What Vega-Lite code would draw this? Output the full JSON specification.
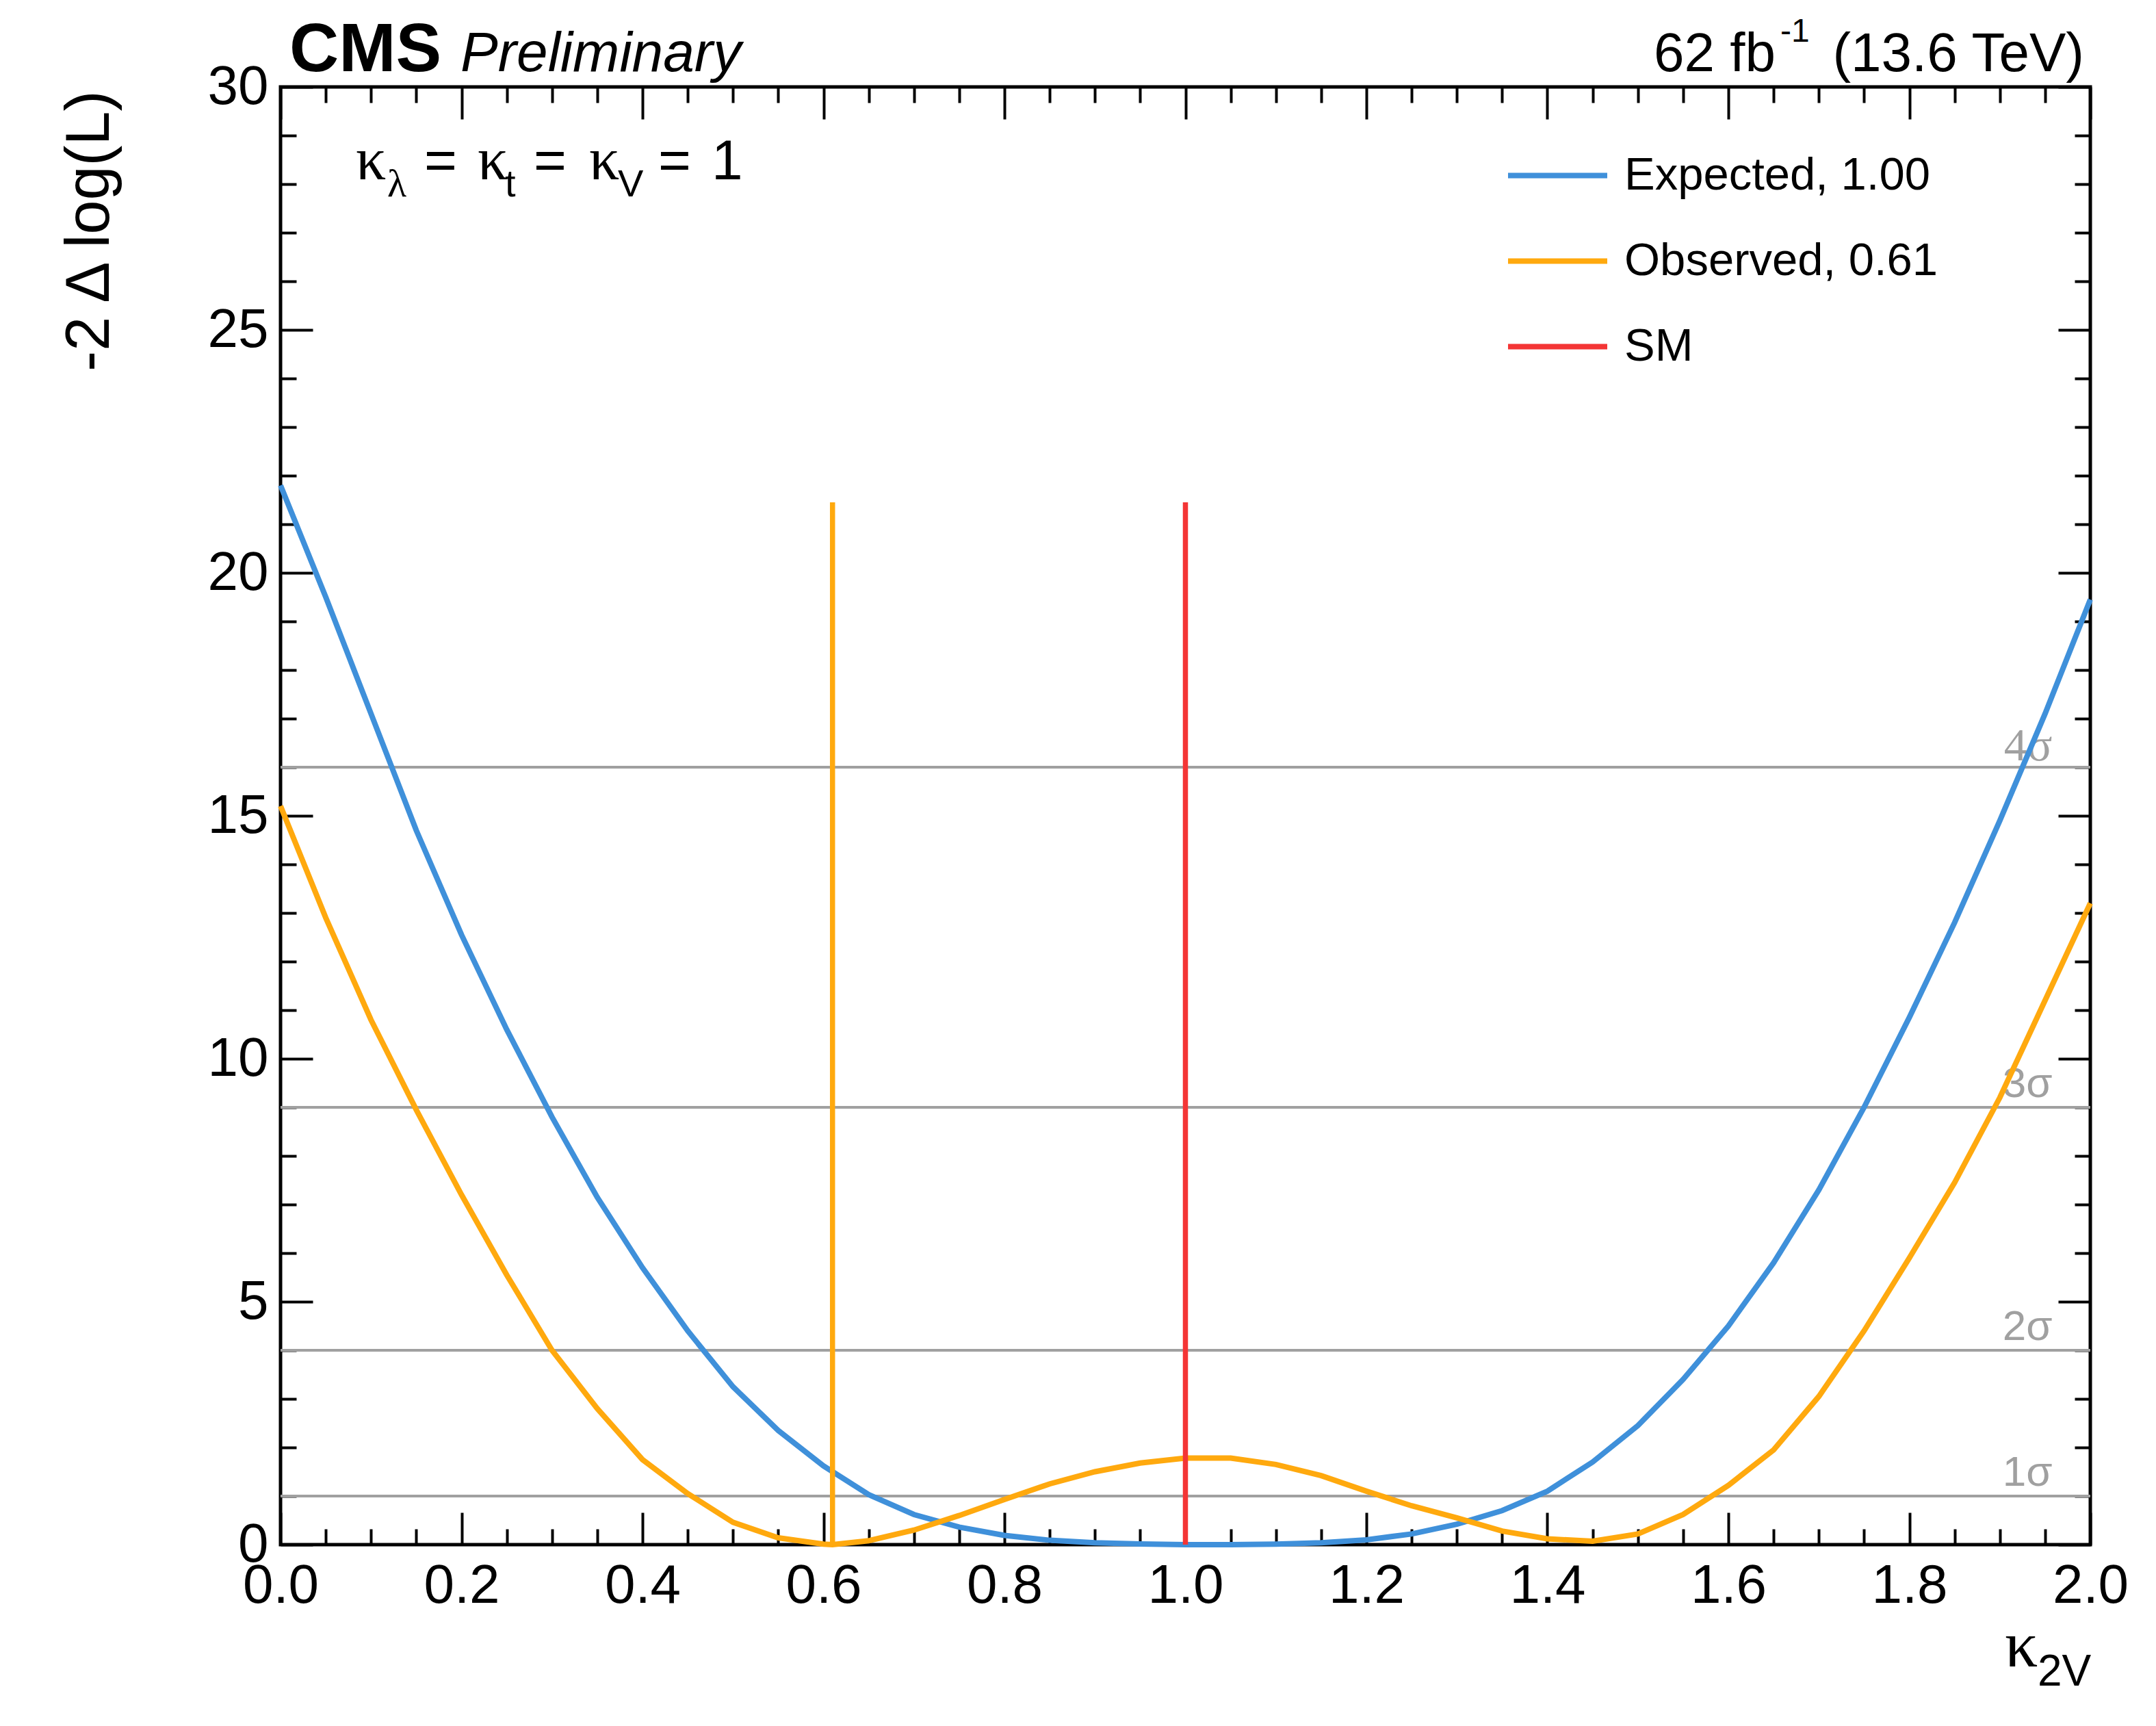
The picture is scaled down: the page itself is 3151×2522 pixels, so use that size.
{
  "$schema": "https://vega.github.io/schema/vega-lite/v6.json",
  "width": 2645,
  "height": 2130,
  "autosize": {"type": "none"},
  "padding": {"left": 410, "top": 127, "right": 96, "bottom": 265},
  "background": "white",
  "config": {
    "view": {"stroke": "black", "strokeWidth": 5},
    "font": "Liberation Sans",
    "axis": {"domain": false, "grid": false, "tickColor": "black", "tickWidth": 4, "labelFont": "Liberation Sans", "labelFontSize": 80, "labelColor": "black", "labelFlush": false, "labelOverlap": false, "labelBound": false, "zindex": 1}
  },
  "datasets": {
    "curves": [
      {"x": 0.00, "y": 21.8, "series": "Expected, 1.00"},
      {"x": 0.05, "y": 19.5, "series": "Expected, 1.00"},
      {"x": 0.10, "y": 17.1, "series": "Expected, 1.00"},
      {"x": 0.15, "y": 14.7, "series": "Expected, 1.00"},
      {"x": 0.20, "y": 12.55, "series": "Expected, 1.00"},
      {"x": 0.25, "y": 10.6, "series": "Expected, 1.00"},
      {"x": 0.30, "y": 8.8, "series": "Expected, 1.00"},
      {"x": 0.35, "y": 7.15, "series": "Expected, 1.00"},
      {"x": 0.40, "y": 5.7, "series": "Expected, 1.00"},
      {"x": 0.45, "y": 4.4, "series": "Expected, 1.00"},
      {"x": 0.50, "y": 3.25, "series": "Expected, 1.00"},
      {"x": 0.55, "y": 2.35, "series": "Expected, 1.00"},
      {"x": 0.60, "y": 1.62, "series": "Expected, 1.00"},
      {"x": 0.65, "y": 1.03, "series": "Expected, 1.00"},
      {"x": 0.70, "y": 0.62, "series": "Expected, 1.00"},
      {"x": 0.75, "y": 0.36, "series": "Expected, 1.00"},
      {"x": 0.80, "y": 0.19, "series": "Expected, 1.00"},
      {"x": 0.85, "y": 0.09, "series": "Expected, 1.00"},
      {"x": 0.90, "y": 0.04, "series": "Expected, 1.00"},
      {"x": 0.95, "y": 0.015, "series": "Expected, 1.00"},
      {"x": 1.00, "y": 0.0, "series": "Expected, 1.00"},
      {"x": 1.05, "y": 0.0, "series": "Expected, 1.00"},
      {"x": 1.10, "y": 0.01, "series": "Expected, 1.00"},
      {"x": 1.15, "y": 0.04, "series": "Expected, 1.00"},
      {"x": 1.20, "y": 0.1, "series": "Expected, 1.00"},
      {"x": 1.25, "y": 0.22, "series": "Expected, 1.00"},
      {"x": 1.30, "y": 0.42, "series": "Expected, 1.00"},
      {"x": 1.35, "y": 0.7, "series": "Expected, 1.00"},
      {"x": 1.40, "y": 1.1, "series": "Expected, 1.00"},
      {"x": 1.45, "y": 1.7, "series": "Expected, 1.00"},
      {"x": 1.50, "y": 2.45, "series": "Expected, 1.00"},
      {"x": 1.55, "y": 3.4, "series": "Expected, 1.00"},
      {"x": 1.60, "y": 4.5, "series": "Expected, 1.00"},
      {"x": 1.65, "y": 5.8, "series": "Expected, 1.00"},
      {"x": 1.70, "y": 7.3, "series": "Expected, 1.00"},
      {"x": 1.75, "y": 9.0, "series": "Expected, 1.00"},
      {"x": 1.80, "y": 10.85, "series": "Expected, 1.00"},
      {"x": 1.85, "y": 12.8, "series": "Expected, 1.00"},
      {"x": 1.90, "y": 14.9, "series": "Expected, 1.00"},
      {"x": 1.95, "y": 17.1, "series": "Expected, 1.00"},
      {"x": 2.00, "y": 19.45, "series": "Expected, 1.00"},
      {"x": 0.00, "y": 15.2, "series": "Observed, 0.61"},
      {"x": 0.05, "y": 12.9, "series": "Observed, 0.61"},
      {"x": 0.10, "y": 10.8, "series": "Observed, 0.61"},
      {"x": 0.15, "y": 8.95, "series": "Observed, 0.61"},
      {"x": 0.20, "y": 7.2, "series": "Observed, 0.61"},
      {"x": 0.25, "y": 5.55, "series": "Observed, 0.61"},
      {"x": 0.30, "y": 4.0, "series": "Observed, 0.61"},
      {"x": 0.35, "y": 2.8, "series": "Observed, 0.61"},
      {"x": 0.40, "y": 1.75, "series": "Observed, 0.61"},
      {"x": 0.45, "y": 1.05, "series": "Observed, 0.61"},
      {"x": 0.50, "y": 0.46, "series": "Observed, 0.61"},
      {"x": 0.55, "y": 0.14, "series": "Observed, 0.61"},
      {"x": 0.60, "y": 0.01, "series": "Observed, 0.61"},
      {"x": 0.61, "y": 0.0, "series": "Observed, 0.61"},
      {"x": 0.65, "y": 0.08, "series": "Observed, 0.61"},
      {"x": 0.70, "y": 0.3, "series": "Observed, 0.61"},
      {"x": 0.75, "y": 0.6, "series": "Observed, 0.61"},
      {"x": 0.80, "y": 0.93, "series": "Observed, 0.61"},
      {"x": 0.85, "y": 1.25, "series": "Observed, 0.61"},
      {"x": 0.90, "y": 1.5, "series": "Observed, 0.61"},
      {"x": 0.95, "y": 1.68, "series": "Observed, 0.61"},
      {"x": 1.00, "y": 1.78, "series": "Observed, 0.61"},
      {"x": 1.05, "y": 1.78, "series": "Observed, 0.61"},
      {"x": 1.10, "y": 1.65, "series": "Observed, 0.61"},
      {"x": 1.15, "y": 1.42, "series": "Observed, 0.61"},
      {"x": 1.20, "y": 1.1, "series": "Observed, 0.61"},
      {"x": 1.25, "y": 0.8, "series": "Observed, 0.61"},
      {"x": 1.30, "y": 0.55, "series": "Observed, 0.61"},
      {"x": 1.35, "y": 0.28, "series": "Observed, 0.61"},
      {"x": 1.40, "y": 0.12, "series": "Observed, 0.61"},
      {"x": 1.45, "y": 0.07, "series": "Observed, 0.61"},
      {"x": 1.50, "y": 0.22, "series": "Observed, 0.61"},
      {"x": 1.55, "y": 0.62, "series": "Observed, 0.61"},
      {"x": 1.60, "y": 1.22, "series": "Observed, 0.61"},
      {"x": 1.65, "y": 1.95, "series": "Observed, 0.61"},
      {"x": 1.70, "y": 3.05, "series": "Observed, 0.61"},
      {"x": 1.75, "y": 4.4, "series": "Observed, 0.61"},
      {"x": 1.80, "y": 5.9, "series": "Observed, 0.61"},
      {"x": 1.85, "y": 7.45, "series": "Observed, 0.61"},
      {"x": 1.90, "y": 9.2, "series": "Observed, 0.61"},
      {"x": 1.95, "y": 11.2, "series": "Observed, 0.61"},
      {"x": 2.00, "y": 13.2, "series": "Observed, 0.61"}
    ],
    "refs": [
      {"x": 0.61, "y": 0, "y2": 21.45, "series": "Observed, 0.61"},
      {"x": 1.0, "y": 0, "y2": 21.45, "series": "SM"}
    ],
    "sigma": [
      {"level": 1, "label": "1σ"},
      {"level": 4, "label": "2σ"},
      {"level": 9, "label": "3σ"},
      {"level": 16, "label": "4σ"}
    ]
  },
  "resolve": {"axis": {"x": "independent", "y": "independent"}, "scale": {"x": "shared", "y": "shared"}},
  "layer": [
    {
      "data": {"name": "sigma"},
      "mark": {"type": "rule", "color": "#a0a0a0", "strokeWidth": 4},
      "encoding": {"y": {"field": "level", "type": "quantitative", "scale": {"domain": [0, 30], "nice": false, "zero": false}, "axis": null}}
    },
    {
      "data": {"name": "sigma"},
      "transform": [{"filter": "datum.level < 16"}],
      "mark": {"type": "text", "align": "right", "baseline": "alphabetic", "dy": -15, "fontSize": 62, "color": "#a0a0a0", "font": "Liberation Sans"},
      "encoding": {
        "x": {"datum": 1.958, "type": "quantitative", "scale": {"domain": [0, 2], "nice": false, "zero": false}, "axis": null},
        "y": {"field": "level", "type": "quantitative", "scale": {"domain": [0, 30], "nice": false, "zero": false}, "axis": null},
        "text": {"field": "label"}
      }
    },
    {
      "data": {"name": "sigma"},
      "transform": [{"filter": "datum.level >= 16"}],
      "mark": {"type": "text", "align": "right", "baseline": "alphabetic", "dy": -10, "fontSize": 68, "color": "#a0a0a0", "font": "Liberation Serif"},
      "encoding": {
        "x": {"datum": 1.958, "type": "quantitative", "scale": {"domain": [0, 2], "nice": false, "zero": false}, "axis": null},
        "y": {"field": "level", "type": "quantitative", "scale": {"domain": [0, 30], "nice": false, "zero": false}, "axis": null},
        "text": {"field": "label"}
      }
    },
    {
      "data": {"name": "curves"},
      "mark": {"type": "line", "strokeWidth": 8},
      "encoding": {
        "x": {"field": "x", "type": "quantitative", "scale": {"domain": [0, 2], "nice": false, "zero": false},
          "axis": {"orient": "bottom", "title": null, "values": [0, 0.2, 0.4, 0.6, 0.8, 1.0, 1.2, 1.4, 1.6, 1.8, 2.0], "format": ".1f", "tickSize": -47, "labelPadding": 68}},
        "y": {"field": "y", "type": "quantitative", "scale": {"domain": [0, 30], "nice": false, "zero": false},
          "axis": {"orient": "left", "values": [0, 5, 10, 15, 20, 25, 30], "format": "d", "tickSize": -47, "labelPadding": 65,
            "title": "-2 Δ log(L)", "titleFont": "Liberation Sans", "titleFontSize": 90, "titleFontWeight": "normal", "titleColor": "black",
            "titleAngle": 270, "titleAlign": "right", "titleBaseline": "alphabetic", "titleX": -252, "titleY": 5}},
        "color": {"field": "series", "type": "nominal",
          "scale": {"domain": ["Expected, 1.00", "Observed, 0.61", "SM"], "range": ["#3f90da", "#ffa90e", "#f43535"]},
          "legend": {"orient": "none", "legendX": 1790, "legendY": 53, "title": null, "symbolType": "stroke", "symbolStrokeWidth": 8, "symbolSize": 21025,
            "labelFontSize": 67, "labelFont": "Liberation Sans", "labelColor": "black", "labelOffset": 21, "labelLimit": 0, "rowPadding": 15, "padding": 0}}
      }
    },
    {
      "data": {"name": "refs"},
      "mark": {"type": "rule", "strokeWidth": 7.5},
      "encoding": {
        "x": {"field": "x", "type": "quantitative", "scale": {"domain": [0, 2], "nice": false, "zero": false}, "axis": null},
        "y": {"field": "y", "type": "quantitative", "scale": {"domain": [0, 30], "nice": false, "zero": false}, "axis": null},
        "y2": {"field": "y2"},
        "color": {"field": "series", "type": "nominal"}
      }
    },
    {
      "data": {"name": "refs"},
      "mark": {"type": "point", "opacity": 0},
      "encoding": {
        "x": {"field": "x", "type": "quantitative", "scale": {"domain": [0, 2], "nice": false, "zero": false},
          "axis": {"orient": "bottom", "title": null, "labels": false, "tickSize": -23, "values": [0.05, 0.1, 0.15, 0.25, 0.3, 0.35, 0.45, 0.5, 0.55, 0.65, 0.7, 0.75, 0.85, 0.9, 0.95, 1.05, 1.1, 1.15, 1.25, 1.3, 1.35, 1.45, 1.5, 1.55, 1.65, 1.7, 1.75, 1.85, 1.9, 1.95]}},
        "y": {"field": "y", "type": "quantitative", "scale": {"domain": [0, 30], "nice": false, "zero": false},
          "axis": {"orient": "left", "title": null, "labels": false, "tickSize": -23, "values": [1, 2, 3, 4, 6, 7, 8, 9, 11, 12, 13, 14, 16, 17, 18, 19, 21, 22, 23, 24, 26, 27, 28, 29]}}
      }
    },
    {
      "data": {"name": "refs"},
      "mark": {"type": "point", "opacity": 0},
      "encoding": {
        "x": {"field": "x", "type": "quantitative", "scale": {"domain": [0, 2], "nice": false, "zero": false},
          "axis": {"orient": "top", "title": null, "labels": false, "tickSize": -47, "values": [0, 0.2, 0.4, 0.6, 0.8, 1.0, 1.2, 1.4, 1.6, 1.8, 2.0]}},
        "y": {"field": "y", "type": "quantitative", "scale": {"domain": [0, 30], "nice": false, "zero": false},
          "axis": {"orient": "right", "title": null, "labels": false, "tickSize": -47, "values": [0, 5, 10, 15, 20, 25, 30]}}
      }
    },
    {
      "data": {"name": "refs"},
      "mark": {"type": "point", "opacity": 0},
      "encoding": {
        "x": {"field": "x", "type": "quantitative", "scale": {"domain": [0, 2], "nice": false, "zero": false},
          "axis": {"orient": "top", "title": null, "labels": false, "tickSize": -23, "values": [0.05, 0.1, 0.15, 0.25, 0.3, 0.35, 0.45, 0.5, 0.55, 0.65, 0.7, 0.75, 0.85, 0.9, 0.95, 1.05, 1.1, 1.15, 1.25, 1.3, 1.35, 1.45, 1.5, 1.55, 1.65, 1.7, 1.75, 1.85, 1.9, 1.95]}},
        "y": {"field": "y", "type": "quantitative", "scale": {"domain": [0, 30], "nice": false, "zero": false},
          "axis": {"orient": "right", "title": null, "labels": false, "tickSize": -23, "values": [1, 2, 3, 4, 6, 7, 8, 9, 11, 12, 13, 14, 16, 17, 18, 19, 21, 22, 23, 24, 26, 27, 28, 29]}}
      }
    },
    {
      "data": {"values": [{}]},
      "mark": {"type": "text", "text": "CMS", "align": "left", "baseline": "alphabetic", "font": "Liberation Sans", "fontWeight": "bold", "fontSize": 100, "color": "black"},
      "encoding": {
        "x": {"datum": 0.0098, "type": "quantitative", "scale": {"domain": [0, 2], "nice": false, "zero": false}, "axis": null},
        "y": {"datum": 30.32, "type": "quantitative", "scale": {"domain": [0, 30], "nice": false, "zero": false}, "axis": null}
      }
    },
    {
      "data": {"values": [{}]},
      "mark": {"type": "text", "text": "Preliminary", "align": "left", "baseline": "alphabetic", "font": "Liberation Sans", "fontStyle": "italic", "fontSize": 82, "color": "black"},
      "encoding": {
        "x": {"datum": 0.1989, "type": "quantitative", "scale": {"domain": [0, 2], "nice": false, "zero": false}, "axis": null},
        "y": {"datum": 30.32, "type": "quantitative", "scale": {"domain": [0, 30], "nice": false, "zero": false}, "axis": null}
      }
    },
    {
      "data": {"values": [{}]},
      "mark": {"type": "text", "text": "62 fb", "align": "left", "baseline": "alphabetic", "font": "Liberation Sans", "fontSize": 80, "color": "black"},
      "encoding": {
        "x": {"datum": 1.5176, "type": "quantitative", "scale": {"domain": [0, 2], "nice": false, "zero": false}, "axis": null},
        "y": {"datum": 30.32, "type": "quantitative", "scale": {"domain": [0, 30], "nice": false, "zero": false}, "axis": null}
      }
    },
    {
      "data": {"values": [{}]},
      "mark": {"type": "text", "text": "-1", "align": "left", "baseline": "alphabetic", "font": "Liberation Sans", "fontSize": 48, "color": "black"},
      "encoding": {
        "x": {"datum": 1.6575, "type": "quantitative", "scale": {"domain": [0, 2], "nice": false, "zero": false}, "axis": null},
        "y": {"datum": 30.93, "type": "quantitative", "scale": {"domain": [0, 30], "nice": false, "zero": false}, "axis": null}
      }
    },
    {
      "data": {"values": [{}]},
      "mark": {"type": "text", "text": "(13.6 TeV)", "align": "right", "baseline": "alphabetic", "font": "Liberation Sans", "fontSize": 80, "color": "black"},
      "encoding": {
        "x": {"datum": 1.9932, "type": "quantitative", "scale": {"domain": [0, 2], "nice": false, "zero": false}, "axis": null},
        "y": {"datum": 30.32, "type": "quantitative", "scale": {"domain": [0, 30], "nice": false, "zero": false}, "axis": null}
      }
    },
    {
      "data": {"values": [{}]},
      "mark": {"type": "text", "text": "κ", "align": "left", "baseline": "alphabetic", "font": "Liberation Serif", "fontSize": 88, "color": "black"},
      "encoding": {
        "x": {"datum": 0.0832, "type": "quantitative", "scale": {"domain": [0, 2], "nice": false, "zero": false}, "axis": null},
        "y": {"datum": 28.1, "type": "quantitative", "scale": {"domain": [0, 30], "nice": false, "zero": false}, "axis": null}
      }
    },
    {
      "data": {"values": [{}]},
      "mark": {"type": "text", "text": "λ", "align": "left", "baseline": "alphabetic", "font": "Liberation Serif", "fontSize": 58, "color": "black"},
      "encoding": {
        "x": {"datum": 0.118, "type": "quantitative", "scale": {"domain": [0, 2], "nice": false, "zero": false}, "axis": null},
        "y": {"datum": 27.75, "type": "quantitative", "scale": {"domain": [0, 30], "nice": false, "zero": false}, "axis": null}
      }
    },
    {
      "data": {"values": [{}]},
      "mark": {"type": "text", "text": "=", "align": "left", "baseline": "alphabetic", "font": "Liberation Sans", "fontSize": 82, "color": "black"},
      "encoding": {
        "x": {"datum": 0.1588, "type": "quantitative", "scale": {"domain": [0, 2], "nice": false, "zero": false}, "axis": null},
        "y": {"datum": 28.1, "type": "quantitative", "scale": {"domain": [0, 30], "nice": false, "zero": false}, "axis": null}
      }
    },
    {
      "data": {"values": [{}]},
      "mark": {"type": "text", "text": "κ", "align": "left", "baseline": "alphabetic", "font": "Liberation Serif", "fontSize": 88, "color": "black"},
      "encoding": {
        "x": {"datum": 0.2178, "type": "quantitative", "scale": {"domain": [0, 2], "nice": false, "zero": false}, "axis": null},
        "y": {"datum": 28.1, "type": "quantitative", "scale": {"domain": [0, 30], "nice": false, "zero": false}, "axis": null}
      }
    },
    {
      "data": {"values": [{}]},
      "mark": {"type": "text", "text": "t", "align": "left", "baseline": "alphabetic", "font": "Liberation Sans", "fontSize": 56, "color": "black"},
      "encoding": {
        "x": {"datum": 0.248, "type": "quantitative", "scale": {"domain": [0, 2], "nice": false, "zero": false}, "axis": null},
        "y": {"datum": 27.75, "type": "quantitative", "scale": {"domain": [0, 30], "nice": false, "zero": false}, "axis": null}
      }
    },
    {
      "data": {"values": [{}]},
      "mark": {"type": "text", "text": "=", "align": "left", "baseline": "alphabetic", "font": "Liberation Sans", "fontSize": 82, "color": "black"},
      "encoding": {
        "x": {"datum": 0.2798, "type": "quantitative", "scale": {"domain": [0, 2], "nice": false, "zero": false}, "axis": null},
        "y": {"datum": 28.1, "type": "quantitative", "scale": {"domain": [0, 30], "nice": false, "zero": false}, "axis": null}
      }
    },
    {
      "data": {"values": [{}]},
      "mark": {"type": "text", "text": "κ", "align": "left", "baseline": "alphabetic", "font": "Liberation Serif", "fontSize": 88, "color": "black"},
      "encoding": {
        "x": {"datum": 0.341, "type": "quantitative", "scale": {"domain": [0, 2], "nice": false, "zero": false}, "axis": null},
        "y": {"datum": 28.1, "type": "quantitative", "scale": {"domain": [0, 30], "nice": false, "zero": false}, "axis": null}
      }
    },
    {
      "data": {"values": [{}]},
      "mark": {"type": "text", "text": "V", "align": "left", "baseline": "alphabetic", "font": "Liberation Sans", "fontSize": 56, "color": "black"},
      "encoding": {
        "x": {"datum": 0.3728, "type": "quantitative", "scale": {"domain": [0, 2], "nice": false, "zero": false}, "axis": null},
        "y": {"datum": 27.75, "type": "quantitative", "scale": {"domain": [0, 30], "nice": false, "zero": false}, "axis": null}
      }
    },
    {
      "data": {"values": [{}]},
      "mark": {"type": "text", "text": "=", "align": "left", "baseline": "alphabetic", "font": "Liberation Sans", "fontSize": 82, "color": "black"},
      "encoding": {
        "x": {"datum": 0.4174, "type": "quantitative", "scale": {"domain": [0, 2], "nice": false, "zero": false}, "axis": null},
        "y": {"datum": 28.1, "type": "quantitative", "scale": {"domain": [0, 30], "nice": false, "zero": false}, "axis": null}
      }
    },
    {
      "data": {"values": [{}]},
      "mark": {"type": "text", "text": "1", "align": "left", "baseline": "alphabetic", "font": "Liberation Sans", "fontSize": 82, "color": "black"},
      "encoding": {
        "x": {"datum": 0.4764, "type": "quantitative", "scale": {"domain": [0, 2], "nice": false, "zero": false}, "axis": null},
        "y": {"datum": 28.1, "type": "quantitative", "scale": {"domain": [0, 30], "nice": false, "zero": false}, "axis": null}
      }
    },
    {
      "data": {"values": [{}]},
      "mark": {"type": "text", "text": "κ", "align": "left", "baseline": "alphabetic", "font": "Liberation Serif", "fontSize": 96, "color": "black"},
      "encoding": {
        "x": {"datum": 1.9055, "type": "quantitative", "scale": {"domain": [0, 2], "nice": false, "zero": false}, "axis": null},
        "y": {"datum": -2.507, "type": "quantitative", "scale": {"domain": [0, 30], "nice": false, "zero": false}, "axis": null}
      }
    },
    {
      "data": {"values": [{}]},
      "mark": {"type": "text", "text": "2V", "align": "left", "baseline": "alphabetic", "font": "Liberation Sans", "fontSize": 64, "color": "black"},
      "encoding": {
        "x": {"datum": 1.9418, "type": "quantitative", "scale": {"domain": [0, 2], "nice": false, "zero": false}, "axis": null},
        "y": {"datum": -2.9, "type": "quantitative", "scale": {"domain": [0, 30], "nice": false, "zero": false}, "axis": null}
      }
    }
  ]
}
